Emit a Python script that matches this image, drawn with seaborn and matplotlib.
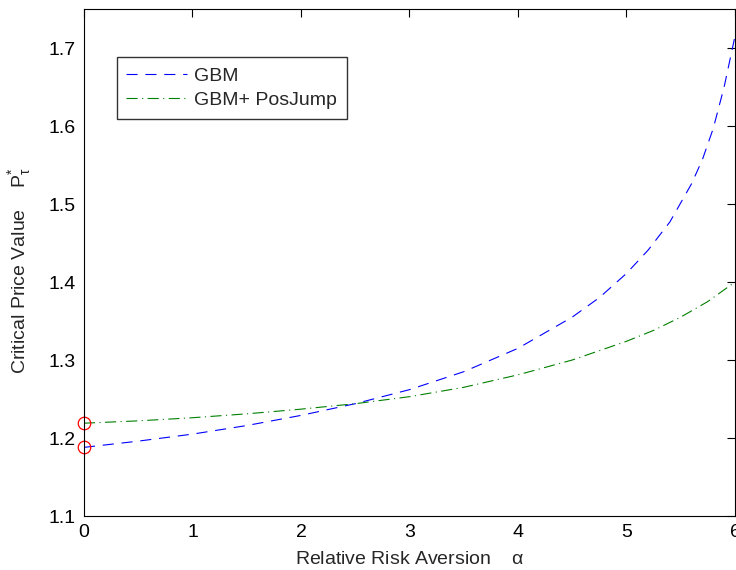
import numpy as np
import pandas as pd
import matplotlib
matplotlib.use("Agg")
import matplotlib.pyplot as plt
import seaborn as sns

alpha_gbm = [0, 0.5, 1, 1.5, 2, 2.5, 3, 3.5, 4, 4.5, 4.75, 5, 5.2, 5.4, 5.6, 5.7, 5.8, 5.9, 6]
gbm = [1.188, 1.196, 1.205, 1.216, 1.229, 1.244, 1.262, 1.285, 1.315, 1.355, 1.380, 1.411,
       1.441, 1.477, 1.526, 1.557, 1.597, 1.650, 1.715]
alpha_jump = [0, 0.5, 1, 1.5, 2, 2.5, 3, 3.5, 4, 4.5, 5, 5.25, 5.5, 5.75, 6]
gbm_jump = [1.219, 1.222, 1.226, 1.231, 1.237, 1.244, 1.253, 1.265, 1.281, 1.300, 1.324,
            1.338, 1.355, 1.375, 1.400]
start_points = [1.188, 1.219]
series_names = ["GBM", "GBM+ PosJump"]

sns.set_style("white")
plt.rcParams['font.family'] = ['Liberation Sans', 'DejaVu Sans']
plt.rcParams['mathtext.fontset'] = 'custom'
plt.rcParams['mathtext.rm'] = 'Liberation Sans'
plt.rcParams['mathtext.it'] = 'Liberation Sans'

fig = plt.figure(figsize=(7.36, 5.70), dpi=100)
ax = fig.add_axes([0.1141, 0.0947, 0.8845, 0.8895])

df = pd.DataFrame({"alpha": alpha_gbm + alpha_jump,
                   "value": gbm + gbm_jump,
                   "series": [series_names[0]] * len(alpha_gbm) + [series_names[1]] * len(alpha_jump)})

sns.lineplot(data=df, x="alpha", y="value", hue="series", style="series",
             palette={series_names[0]: "#0000ff", series_names[1]: "#008000"},
             dashes={series_names[0]: (10, 7), series_names[1]: (10, 4, 1, 4)},
             linewidth=0.8, ax=ax, legend=True, sort=True)

ax.plot([0, 0], start_points, linestyle="none", marker="o", markersize=9,
        markerfacecolor="none", markeredgecolor="red", markeredgewidth=0.9, clip_on=False)

ax.set_xlim(0, 6)
ax.set_ylim(1.1, 1.75)
ax.set_xticks([0, 1, 2, 3, 4, 5, 6])
ax.set_yticks([1.1, 1.2, 1.3, 1.4, 1.5, 1.6, 1.7])
ax.set_yticklabels(["1.1", "1.2", "1.3", "1.4", "1.5", "1.6", "1.7"])
ax.tick_params(direction="in", length=6, width=0.8, top=True, right=True,
               labelsize=14, colors="black", pad=6)
for s in ax.spines.values():
    s.set_color("black")
    s.set_linewidth(0.8)

ax.set_xlabel(r"Relative Risk Aversion    $\alpha$", fontsize=14, labelpad=7)
ax.set_ylabel(r"Critical Price Value    $\mathrm{P}^{*}_{\tau}$", fontsize=14, labelpad=6)
ax.yaxis.set_label_coords(-0.078, 0.485)

leg = ax.legend(loc="upper left", bbox_to_anchor=(0.05, 0.905), borderaxespad=0,
                fontsize=14, frameon=True, fancybox=False, handlelength=3.1,
                borderpad=0.5, labelspacing=0.35, handletextpad=0.4)
leg.get_frame().set_edgecolor("black")
leg.get_frame().set_linewidth(1.0)

fig.savefig("out.png", dpi=100)
